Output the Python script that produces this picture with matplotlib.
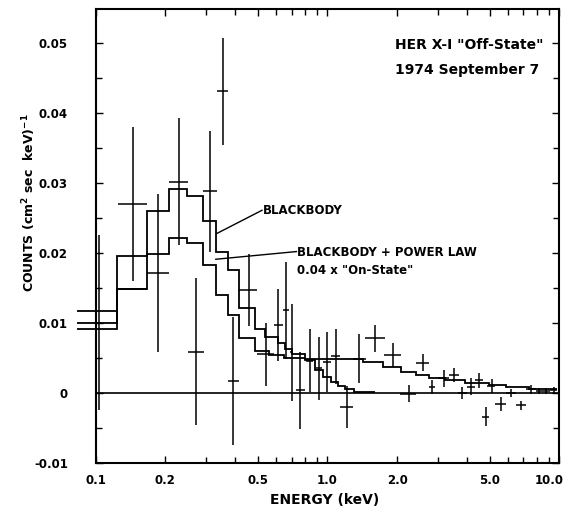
import matplotlib
matplotlib.use('Agg')
import matplotlib.pyplot as plt
from matplotlib.transforms import ScaledTranslation
import numpy as np

# data points (energy keV, counts) =========================================
energy = [0.1036, 0.1443, 0.186, 0.229, 0.271, 0.311, 0.353, 0.392, 0.459, 0.543,
          0.61, 0.66, 0.70, 0.76, 0.84, 0.92, 1.0, 1.085, 1.21, 1.37,
          1.6, 1.91, 2.25, 2.58, 2.83, 3.17, 3.52, 3.82, 4.15, 4.51,
          4.81, 5.1, 5.6, 6.2, 6.85, 7.55, 8.2, 8.8, 9.45]
e_lo = [0.101, 0.125, 0.167, 0.208, 0.251, 0.291, 0.333, 0.373, 0.416, 0.497,
        0.588, 0.645, 0.69, 0.73, 0.81, 0.89, 0.96, 1.04, 1.13, 1.29,
        1.45, 1.75, 2.06, 2.42, 2.73, 3.0, 3.34, 3.66, 3.98, 4.33,
        4.65, 4.9, 5.3, 5.9, 6.5, 7.2, 7.9, 8.5, 9.1]
e_hi = [0.106, 0.166, 0.207, 0.251, 0.293, 0.333, 0.373, 0.416, 0.497, 0.588,
        0.645, 0.683, 0.71, 0.80, 0.87, 0.95, 1.04, 1.13, 1.29, 1.46,
        1.77, 2.08, 2.42, 2.73, 2.92, 3.35, 3.69, 3.98, 4.33, 4.70,
        4.98, 5.3, 5.9, 6.5, 7.2, 7.9, 8.5, 9.1, 9.8]
counts = [0.0100, 0.0270, 0.0172, 0.0302, 0.0059, 0.0288, 0.0431, 0.0017, 0.0147, 0.0055,
          0.0097, 0.0118, 0.0058, 0.0004, 0.0046, 0.0035, 0.0044, 0.0052, -0.0020, 0.0049,
          0.0078, 0.0054, -0.0001, 0.0043, 0.0009, 0.0021, 0.0026, 0.0000, 0.0009, 0.0018,
          -0.0034, 0.0010, -0.0016, 0.0000, -0.0018, 0.0005, 0.0003, 0.0003, 0.0004]
count_err = [0.0125, 0.0110, 0.0113, 0.0091, 0.0105, 0.0087, 0.0077, 0.0092, 0.0052, 0.0045,
             0.0052, 0.0069, 0.0069, 0.0055, 0.0045, 0.0045, 0.0043, 0.0040, 0.0030, 0.0035,
             0.0019, 0.0017, 0.0012, 0.0012, 0.0010, 0.0012, 0.0010, 0.0009, 0.0012, 0.0011,
             0.0014, 0.0010, 0.0010, 0.0006, 0.0007, 0.0006, 0.0004, 0.0004, 0.0004]

# model histograms ==========================================================
bb_edges = [0.083, 0.124, 0.166, 0.207, 0.248, 0.291, 0.330, 0.373, 0.416, 0.486, 0.536,
            0.61, 0.656, 0.70, 0.80, 0.88, 0.96, 1.04, 1.11, 1.19, 1.30, 1.60]
bb_vals = [0.0117, 0.0195, 0.0260, 0.0291, 0.0281, 0.0246, 0.0201, 0.0175, 0.0121, 0.0092,
           0.0080, 0.0071, 0.0063, 0.0056, 0.0047, 0.0032, 0.0023, 0.0016, 0.0010, 0.0005, 0.00014]

pl_edges = [0.083, 0.124, 0.166, 0.207, 0.248, 0.291, 0.330, 0.373, 0.416, 0.486, 0.56,
            0.65, 0.80, 1.43, 1.74, 2.08, 2.42, 2.73, 3.2, 3.9, 4.98, 5.9, 7.4, 9.8]
pl_vals = [0.0100, 0.0149, 0.0199, 0.0221, 0.0214, 0.0183, 0.0140, 0.0112, 0.0079, 0.0060,
           0.0054, 0.0050, 0.0048, 0.0044, 0.0037, 0.0030, 0.0025, 0.0021, 0.0018, 0.0014,
           0.0011, 0.0008, 0.0005]

on_edges = [0.083, 0.124, 0.166]
on_vals = [0.0091, 0.0149]

xticks = [0.1, 0.2, 0.5, 1.0, 2.0, 5.0, 10.0]
xticklabels = ['0.1', '0.2', '0.5', '1.0', '2.0', '5.0', '10.0']
yticks = [-0.01, 0, 0.01, 0.02, 0.03, 0.04, 0.05]
yticklabels = ['-0.01', '0', '0.01', '0.02', '0.03', '0.04', '0.05']

plt.rcParams['font.family'] = ['DejaVu Sans']
plt.rcParams['font.weight'] = 'bold'

fig = plt.figure(figsize=(5.69, 5.20), dpi=100)
ax = fig.add_axes([0.168, 0.110, 0.815, 0.873])

ax.set_xscale('log')
ax.set_xlim(0.1, 10)
ax.set_ylim(-0.01, 0.0549)

# zero line
ax.plot([0.1, 10], [0, 0], color='black', lw=1.2)

# histograms (they run a bit past the left axis)
ax.stairs(bb_vals, bb_edges, baseline=None, color='black', lw=1.3, clip_on=False)
ax.stairs(pl_vals, pl_edges, baseline=None, color='black', lw=1.3, clip_on=False)
ax.stairs(on_vals, on_edges, baseline=None, color='black', lw=1.3, clip_on=False)

xerr = [np.array(energy) - np.array(e_lo), np.array(e_hi) - np.array(energy)]
ax.errorbar(energy, counts, xerr=xerr, yerr=count_err, fmt='none',
            ecolor='black', elinewidth=1.1, capsize=0)

# labels
ax.text(1.95, 0.0497, 'HER X-I "Off-State"', fontsize=10, va='center', ha='left')
ax.text(1.95, 0.0461, '1974 September 7', fontsize=10, va='center', ha='left')

ax.plot([0.334, 0.522], [0.0228, 0.0261], color='black', lw=1.0)
ax.text(0.527, 0.0261, 'BLACKBODY', fontsize=8.5, va='center', ha='left')

ax.plot([0.330, 0.735], [0.0191, 0.0202], color='black', lw=1.0)
ax.text(0.739, 0.0201, 'BLACKBODY + POWER LAW', fontsize=8.5, va='center', ha='left')
ax.text(0.739, 0.0175, '0.04 x "On-State"', fontsize=8.5, va='center', ha='left')

ax.set_xticks(xticks)
ax.set_xticklabels(xticklabels)
ax.set_yticks(yticks)
ax.set_yticklabels(yticklabels)
ax.set_yticks(np.arange(-0.005, 0.055, 0.01), minor=True)
ax.tick_params(which='both', direction='in', top=True, right=True, labelsize=8.5)
ax.tick_params(which='major', length=5, width=1.0)
ax.tick_params(which='minor', length=4, width=1.0)
ax.tick_params(axis='x', pad=8)
ax.tick_params(axis='y', pad=20)
ax.xaxis.set_minor_formatter(matplotlib.ticker.NullFormatter())
for s in ax.spines.values():
    s.set_linewidth(1.5)

# the last energy label sits a little left of its tick, as in the original
last = ax.get_xticklabels()[-1]
last.set_transform(last.get_transform() + ScaledTranslation(-7 / 72, 0, fig.dpi_scale_trans))

fig.text(0.051, 1 - 203 / 520, 'COUNTS (cm$^{\\mathbf{2}}$ sec  keV)$^{\\mathbf{-1}}$',
         rotation=90, fontsize=9, ha='center', va='center')
fig.text(325 / 569, 1 - 500 / 520, 'ENERGY (keV)', fontsize=10, ha='center', va='center')

fig.savefig('out.png', dpi=100)
